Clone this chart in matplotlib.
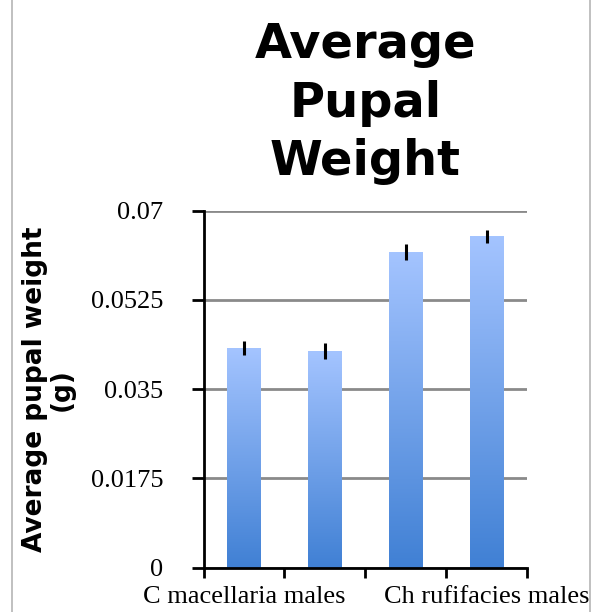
import numpy as np
import matplotlib
matplotlib.use("Agg")
import matplotlib.pyplot as plt
from matplotlib.colors import LinearSegmentedColormap
from matplotlib.lines import Line2D

# data
groups = ["C macellaria males", "C macellaria females", "Ch rufifacies females", "Ch rufifacies males"]
shown_labels = ["C macellaria males", "", "", "Ch rufifacies males"]
weights = [0.0431, 0.0425, 0.0619, 0.0650]
errors = [0.0013, 0.0016, 0.0016, 0.0013]
yticks = [0, 0.0175, 0.035, 0.0525, 0.07]
ytick_labels = ["0", "0.0175", "0.035", "0.0525", "0.07"]

fig = plt.figure(figsize=(5.94, 6.12), dpi=100)
ax = fig.add_axes([0.3426, 0.0724, 0.5446, 0.5833])

x = np.arange(len(groups))
bars = ax.bar(x, weights, width=0.41, color="none", edgecolor="none", zorder=3)

# gradient fill for each bar (light on top, darker at bottom)
cmap = LinearSegmentedColormap.from_list("blues", ["#4080d4", "#a4c4ff"])
grad = np.linspace(0, 1, 256).reshape(-1, 1)
for b in bars:
    x0, y0 = b.get_x(), b.get_y()
    w, h = b.get_width(), b.get_height()
    im = ax.imshow(grad, cmap=cmap, origin="lower", aspect="auto",
                   extent=[x0, x0 + w, y0, y0 + h], zorder=3)
    im.set_clip_path(b)

ax.errorbar(x, weights, yerr=errors, fmt="none", ecolor="black", elinewidth=2.2, capsize=0, zorder=4)

ax.set_xlim(-0.5, 3.5)
ax.set_ylim(0, 0.07)
ax.set_yticks(yticks)
ax.set_yticklabels(ytick_labels, fontfamily="Liberation Serif", fontsize=19)
ax.set_xticks(x)
ax.set_xticklabels(shown_labels, fontfamily="Liberation Serif", fontsize=19)
ax.set_xticks(np.arange(-0.5, 4, 1), minor=True)
ax.tick_params(axis="x", which="major", length=0, pad=13)
ax.tick_params(axis="x", which="minor", length=7, width=2, direction="out")
ax.tick_params(axis="y", length=9, width=2, direction="out", pad=20)

ax.yaxis.grid(True, color="#8a8a8a", linewidth=2)
ax.set_axisbelow(True)
for s in ["top", "right"]:
    ax.spines[s].set_visible(False)
for s in ["left", "bottom"]:
    ax.spines[s].set_linewidth(2)
    ax.spines[s].set_zorder(5)

ax.set_ylabel("Average pupal weight\n(g)", fontfamily="DejaVu Sans", fontweight="bold",
              fontsize=19, linespacing=1.05)
ax.yaxis.set_label_coords(-0.397, 0.5)

fig.text(0.615, 0.965, "Average\nPupal\nWeight", ha="center", va="top",
         fontfamily="DejaVu Sans", fontweight="bold", fontsize=34.5, linespacing=1.3)

# thin frame lines at the figure edges
fig.add_artist(Line2D([12 / 594, 12 / 594], [0, 1], color="#b5b5b5", linewidth=1.2))
fig.add_artist(Line2D([590 / 594, 590 / 594], [0, 1], color="#b5b5b5", linewidth=1.2))

fig.savefig("out.png", dpi=100)
